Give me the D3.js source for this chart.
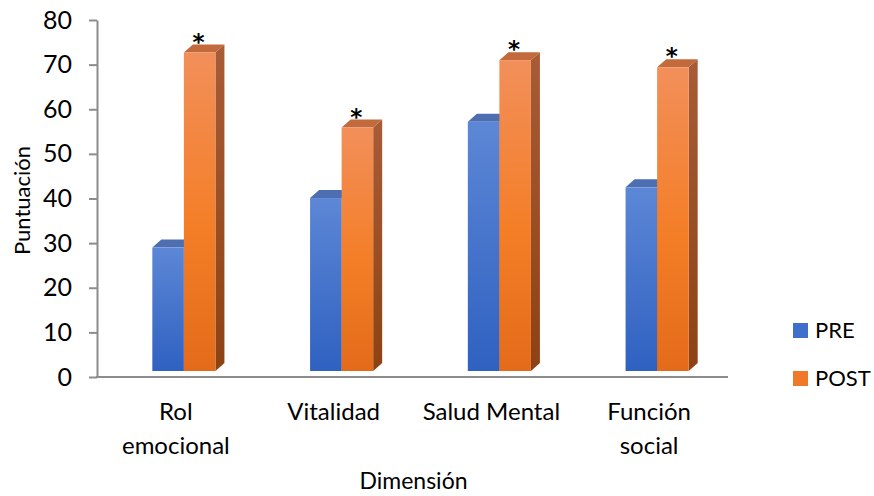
<!DOCTYPE html>
<html>
<head>
<meta charset="utf-8">
<script src="https://cdn.jsdelivr.net/npm/d3@7"></script>
<style>
  html, body { margin: 0; padding: 0; background: #fff; }
  svg { display: block; }
</style>
</head>
<body>
<div id="chart"></div>
<script>
const categories = [["Rol", "emocional"], ["Vitalidad"], ["Salud Mental"], ["Función", "social"]];
const series = ["PRE", "POST"];
const preValues = [29.0, 40.1, 57.2, 42.5];
const postValues = [72.7, 55.9, 71.0, 69.4];
const significant = [true, true, true, true];
const yTicks = [0, 10, 20, 30, 40, 50, 60, 70, 80];

const width = 874;
const height = 496;
const marginLeft = 97;
const plotRight = 728;
const marginTop = 20;
const baseY = 377;
const font = "Lato, 'Open Sans', sans-serif";

// 3D look
const depthX = 9;
const depthY = 8;
const floorLift = 6;
const shiftX = 8;

const keys = categories.map((c) => c.join(" "));
const data = keys.map((k, i) => ({ key: k, lines: categories[i], PRE: preValues[i], POST: postValues[i], star: significant[i] }));

const svg = d3.select("#chart")
  .append("svg")
  .attr("width", width)
  .attr("height", height)
  .attr("viewBox", [0, 0, width, height]);

const x0 = d3.scaleBand()
  .domain(keys)
  .range([marginLeft, plotRight])
  .paddingInner(0.6)
  .paddingOuter(0.3);

const x1 = d3.scaleBand()
  .domain(series)
  .range([0, x0.bandwidth()]);

const y = d3.scaleLinear().domain([0, 80]).range([baseY, marginTop]);

// gradients
const defs = svg.append("defs");
function grad(id, stops) {
  const g = defs.append("linearGradient").attr("id", id)
    .attr("x1", 0).attr("y1", 0).attr("x2", 0).attr("y2", 1);
  stops.forEach(([o, c]) => g.append("stop").attr("offset", o).attr("stop-color", c));
}
grad("preFront", [[0, "#5d87d6"], [1, "#2f61c1"]]);
grad("postFront", [[0, "#f28f5a"], [0.55, "#f47e27"], [1, "#e36b1a"]]);
grad("postSide", [[0, "#a85c37"], [1, "#8c4213"]]);
grad("preSide", [[0, "#3d5c9e"], [1, "#234a94"]]);

const colors = {
  PRE: { front: "url(#preFront)", top: "#4d6eb0", side: "url(#preSide)", legend: "#3f6fcb" },
  POST: { front: "url(#postFront)", top: "#c36a3c", side: "url(#postSide)", legend: "#f0782a" },
};

// y axis
svg.append("g")
  .attr("transform", `translate(${marginLeft},0)`)
  .call(d3.axisLeft(y).tickValues(yTicks).tickSize(8).tickPadding(17).tickSizeOuter(0))
  .call((g) => g.select(".domain").attr("stroke", "#8c8c8c").attr("stroke-width", 2))
  .call((g) => g.selectAll(".tick line").attr("stroke", "#8c8c8c").attr("stroke-width", 2))
  .call((g) => g.selectAll(".tick text")
    .attr("fill", "#000")
    .attr("font-size", "25px")
    .attr("font-family", font));

// x axis line
svg.append("line")
  .attr("x1", marginLeft - 1).attr("x2", plotRight)
  .attr("y1", baseY).attr("y2", baseY)
  .attr("stroke", "#8c8c8c").attr("stroke-width", 2);

// bars
const groups = svg.append("g")
  .selectAll("g")
  .data(data)
  .join("g")
  .attr("transform", (d) => `translate(${x0(d.key) + shiftX},0)`);

series.forEach((s) => {
  const w = x1.bandwidth();
  const bottom = baseY - floorLift;
  groups.each(function (d) {
    const g = d3.select(this);
    const bx = x1(s);
    const top = y(d[s]);
    g.append("polygon")
      .attr("points", [[bx + w, top], [bx + w + depthX, top - depthY], [bx + w + depthX, bottom - depthY], [bx + w, bottom]].join(" "))
      .attr("fill", colors[s].side);
    g.append("polygon")
      .attr("points", [[bx, top], [bx + depthX, top - depthY], [bx + w + depthX, top - depthY], [bx + w, top]].join(" "))
      .attr("fill", colors[s].top);
    g.append("rect")
      .attr("x", bx).attr("y", top)
      .attr("width", w).attr("height", bottom - top)
      .attr("fill", colors[s].front);
  });
});

// significance stars
groups.filter((d) => d.star)
  .append("text")
  .attr("x", x1("POST") + x1.bandwidth() / 2 - 1)
  .attr("y", (d) => y(d.POST) - depthY + 5)
  .attr("text-anchor", "middle")
  .attr("font-family", "'DejaVu Sans', sans-serif")
  .attr("font-weight", "700")
  .attr("font-size", "23px")
  .attr("fill", "#000")
  .text("*");

// category labels
const catLabels = svg.append("g")
  .selectAll("text")
  .data(data)
  .join("text")
  .attr("x", (d) => x0(d.key) + x0.bandwidth() / 2)
  .attr("y", 420)
  .attr("text-anchor", "middle")
  .attr("font-family", font)
  .attr("font-size", "24px")
  .attr("fill", "#000");
catLabels.selectAll("tspan")
  .data((d) => d.lines.map((t) => ({ t, x: x0(d.key) + x0.bandwidth() / 2 })))
  .join("tspan")
  .attr("x", (t) => t.x)
  .attr("dy", (t, i) => (i === 0 ? 0 : 34))
  .text((t) => t.t);

// axis titles
svg.append("text")
  .attr("transform", `translate(30,${(marginTop + baseY) / 2 + 2}) rotate(-90)`)
  .attr("text-anchor", "middle")
  .attr("font-family", font)
  .attr("font-size", "22px")
  .text("Puntuación");

svg.append("text")
  .attr("x", (marginLeft + plotRight) / 2 + 1)
  .attr("y", 489)
  .attr("text-anchor", "middle")
  .attr("font-family", font)
  .attr("font-size", "23px")
  .text("Dimensión");

// legend
const legend = svg.append("g")
  .selectAll("g")
  .data(series)
  .join("g")
  .attr("transform", (d, i) => `translate(793,${323 + i * 48})`);
legend.append("rect")
  .attr("width", 15).attr("height", 15)
  .attr("fill", (d) => colors[d].legend);
legend.append("text")
  .attr("x", 22).attr("y", 15)
  .attr("font-family", font)
  .attr("font-size", "22px")
  .text((d) => d);
</script>
</body>
</html>
